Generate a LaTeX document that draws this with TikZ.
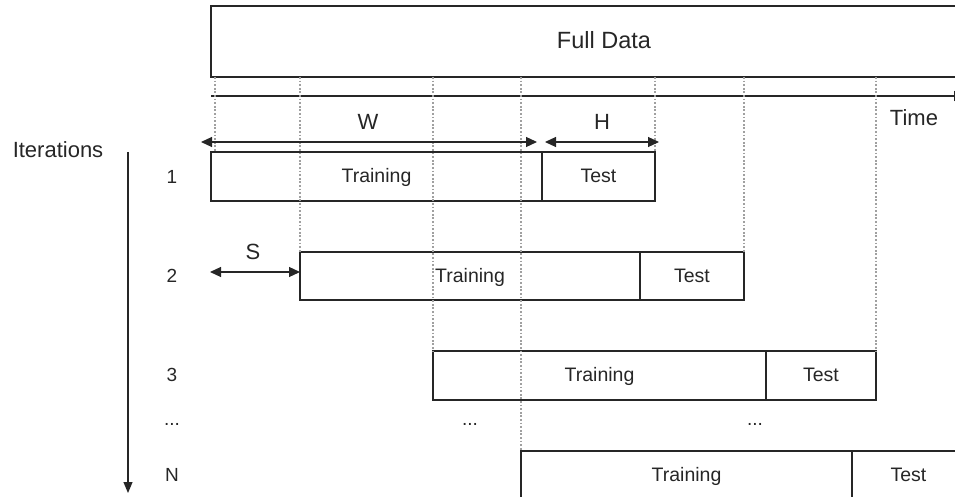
\documentclass[tikz,border=0pt]{standalone}
\usepackage{fontspec}
\setmainfont{Liberation Sans}
\usetikzlibrary{arrows.meta}
\definecolor{ink}{HTML}{262626}
\definecolor{dotc}{HTML}{A0A0A0}
\begin{document}
\begin{tikzpicture}[x=1pt,y=-1pt,
  box/.style={draw=ink,line width=1.2pt,inner sep=0pt,outer sep=0pt,text=ink,font=\fontsize{19.5}{21}\selectfont,text height=14pt,text depth=2pt},
  lbl/.style={text=ink,inner sep=0pt,font=\fontsize{22}{24}\selectfont},
  num/.style={text=ink,inner sep=0pt,font=\fontsize{19}{21}\selectfont},
  guide/.style={dotc,line width=1.8pt,dash pattern=on 1.8pt off 1.8pt},
  dim/.style={ink,line width=1.2pt,{Triangle[length=11pt,width=10pt]}-{Triangle[length=11pt,width=10pt]}},
  axis/.style={ink,line width=1.2pt}]
\useasboundingbox (0,0) rectangle (955,497);
% full data
\node[box,minimum width=786pt,minimum height=71pt,font=\fontsize{23.5}{25}\selectfont,text height=17pt,text depth=3pt] (full) at (604,41.5) {Full Data};
% time axis
\coordinate (t0) at (211,96);
\coordinate (t1) at (965,96);
\draw[axis,-{Triangle[length=11pt,width=10pt]}] (t0) -- (t1);
\node[lbl] (time) at (914,118) {Time};
% iteration boxes
\node[box,minimum width=331pt,minimum height=49pt] (tr1) at (376.5,176.5) {Training};
\node[box,minimum width=113pt,minimum height=49pt] (te1) at (598.5,176.5) {Test};
\node[box,minimum width=340pt,minimum height=48pt] (tr2) at (470,276) {Training};
\node[box,minimum width=104pt,minimum height=48pt] (te2) at (692,276) {Test};
\node[box,minimum width=333pt,minimum height=49pt] (tr3) at (599.5,375.5) {Training};
\node[box,minimum width=110pt,minimum height=49pt] (te3) at (821,375.5) {Test};
\node[box,minimum width=331pt,minimum height=49pt] (trN) at (686.5,475.5) {Training};
\node[box,minimum width=113pt,minimum height=49pt] (teN) at (908.5,475.5) {Test};
% guides
\coordinate (g0a) at (215,77);
\coordinate (g0b) at (215,152);
\draw[guide] (g0a) -- (g0b);
\draw[guide] (tr2.north west |- full.south) -- (tr2.north west);
\draw[guide] (tr3.north west |- full.south) -- (tr3.north west);
\draw[guide] (trN.north west |- full.south) -- (trN.north west);
\draw[guide] (te1.north east |- full.south) -- (te1.north east);
\draw[guide] (te2.north east |- full.south) -- (te2.north east);
\draw[guide] (te3.north east |- full.south) -- (te3.north east);
% W and H
\coordinate (w0) at (201,142);
\coordinate (w1) at (537,142);
\coordinate (h0) at (545,142);
\coordinate (h1) at (659,142);
\draw[dim] (w0) -- (w1);
\draw[dim] (h0) -- (h1);
\node[lbl] (W) at (368,122) {W};
\node[lbl] (H) at (602,122) {H};
% S
\coordinate (s0) at (210,272);
\draw[dim] (s0) -- (tr2.west |- s0);
\node[lbl] (S) at (253,252) {S};
% iterations
\node[lbl] (iter) at (58,150) {Iterations};
\coordinate (i0) at (128,152);
\coordinate (i1) at (128,493);
\draw[axis,-{Triangle[length=11pt,width=9pt]}] (i0) -- (i1);
\node[num] (n1) at (172,177) {1};
\node[num] (n2) at (172,276) {2};
\node[num] (n3) at (172,375) {3};
\node[num] (nd) at (172,424) {...};
\node[num] (nN) at (172,475) {N};
\node[num] (d1) at (470,424) {...};
\node[num] (d2) at (755,424) {...};
\end{tikzpicture}
\end{document}
